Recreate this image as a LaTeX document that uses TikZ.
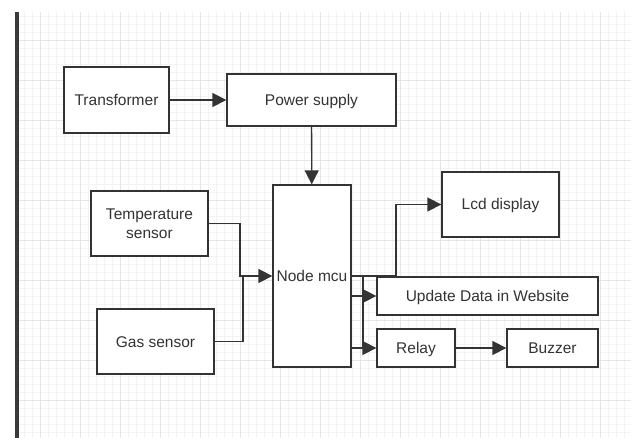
\documentclass[tikz,border=0pt]{standalone}
\usepackage{fontspec}
\setmainfont{Liberation Sans}
\usetikzlibrary{arrows.meta}
\definecolor{boxline}{RGB}{51,51,51}
\definecolor{sidebar}{RGB}{58,58,58}
\definecolor{gridminor}{RGB}{243,243,243}
\definecolor{gridmajor}{RGB}{230,230,230}
\tikzset{
  blockbox/.style={
    draw=boxline,
    fill=white,
    line width=1.3pt,
    text=boxline,
    font=\fontsize{15.5}{18.5}\selectfont,
    align=center,
    inner sep=0pt
  },
  oneline/.style={
    text height=11pt,
    text depth=0pt
  },
  flowarrow/.style={
    draw=boxline,
    line width=1.3pt,
    -{Triangle[length=14pt,width=14pt]}
  },
  flowline/.style={
    draw=boxline,
    line width=1.3pt
  }
}

\begin{document}
\begin{tikzpicture}[x=1pt,y=-1pt]

  % Page frame: white page, grid sheet and the dark bar on the left.
  \useasboundingbox (0,0) rectangle (631,438);
  \fill[white] (0,0) rectangle (631,438);
  \draw[gridminor,line width=0.5pt] (19,12) grid[step=8pt] (631,438);
  \draw[gridmajor,line width=0.6pt] (19,12) grid[step=40pt] (631,438);
  \fill[sidebar] (15,12) rectangle (19,438);

  % Supply chain on top.
  \node[blockbox,oneline,minimum width=105pt,minimum height=66pt]
    (trans) at (116.5,100) {Transformer};
  \node[blockbox,oneline,minimum width=169pt,minimum height=52pt]
    (power) at (311.5,100) {Power supply};

  % Controller in the middle.
  \node[blockbox,oneline,minimum width=78pt,minimum height=182pt]
    (mcu) at (312,276) {Node mcu};

  % Sensors on the left.
  \node[blockbox,minimum width=117pt,minimum height=65pt]
    (temp) at (149.5,223.5) {Temperature\\sensor};
  \node[blockbox,oneline,minimum width=117pt,minimum height=65pt]
    (gas) at (155.5,341.5) {Gas sensor};

  % Outputs on the right.
  \node[blockbox,oneline,minimum width=117pt,minimum height=65pt]
    (lcd) at (500.5,204.5) {Lcd display};
  \node[blockbox,oneline,minimum width=221pt,minimum height=38pt]
    (web) at (487.5,296) {Update Data in Website};
  \node[blockbox,oneline,minimum width=78pt,minimum height=38pt]
    (relay) at (416,348) {Relay};
  \node[blockbox,oneline,minimum width=91pt,minimum height=38pt]
    (buzzer) at (552.5,348) {Buzzer};

  % Junction points of the bent connectors.
  \coordinate (tempjoin) at (240,276);
  \coordinate (gasjoin) at (243,276);
  \coordinate (lcdjoin) at (396,276);
  \coordinate (busjoin) at (363,276);

  \draw[flowarrow] (trans) -- (power);
  \draw[flowarrow] (power) -- (mcu);

  \draw[flowarrow] (temp.east) -| (tempjoin) -- (mcu.west);
  \draw[flowline] (gas.east) -| (gasjoin);

  \draw[flowarrow] (mcu.east) -- (lcdjoin) |- (lcd.west);
  \draw[flowline] (busjoin) -- (busjoin |- relay.west);
  \draw[flowarrow] (mcu.east |- web.west) -- (web.west);
  \draw[flowarrow] (mcu.east |- relay.west) -- (relay.west);
  \draw[flowarrow] (relay) -- (buzzer);

\end{tikzpicture}
\end{document}
